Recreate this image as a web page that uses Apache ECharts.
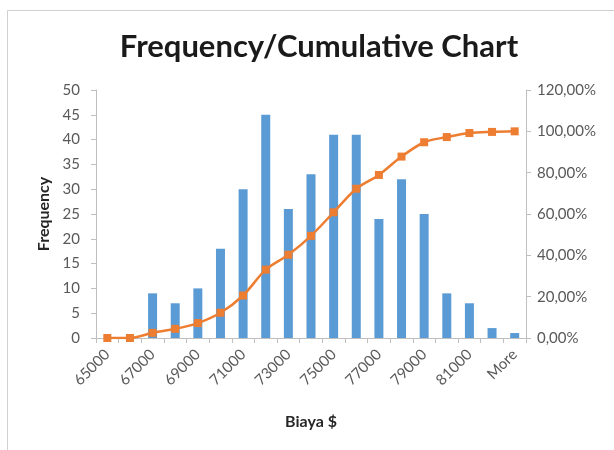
<!DOCTYPE html>
<html>
<head>
<meta charset="utf-8">
<script src="https://cdn.jsdelivr.net/npm/echarts@6/dist/echarts.min.js"></script>
<style>
  html, body { margin: 0; padding: 0; background: #fff; }
  #chart { width: 614px; height: 450px; }
</style>
</head>
<body>
<div id="chart"></div>
<script>
// Histogram bins (upper bound of each bin, Excel style)
const bins = ['65000', '66000', '67000', '68000', '69000', '70000', '71000', '72000', '73000',
  '74000', '75000', '76000', '77000', '78000', '79000', '80000', '81000', '82000', 'More'];

// Count of observations per bin
const frequency = [0, 0, 9, 7, 10, 18, 30, 45, 26, 33, 41, 41, 24, 32, 25, 9, 7, 2, 1];

// Cumulative share, in percent
const cumulativePct = [0, 0, 2.5, 4.44, 7.22, 12.22, 20.56, 33.06, 40.28, 49.44, 60.83,
  72.22, 78.89, 87.78, 94.72, 97.22, 99.17, 99.72, 100];

// Axis ranges
const freqAxis = { min: 0, max: 50, step: 5 };
const pctAxis = { min: 0, max: 120, step: 20 };

const FONT = 'Lato, "Open Sans", sans-serif';
const labelGray = '#595959';
const axisGray = '#BFBFBF';

const chart = echarts.init(document.getElementById('chart'), null, { renderer: 'canvas' });

chart.setOption({
  animation: false,
  backgroundColor: '#ffffff',
  graphic: [
    {
      type: 'rect',
      shape: { x: 7.5, y: 10.5, width: 700, height: 500 },
      style: { fill: 'none', stroke: '#D0D0D0', lineWidth: 1 },
      silent: true
    }
  ],
  title: {
    text: 'Frequency/Cumulative Chart',
    left: 314,
    top: 26,
    textAlign: 'center',
    textStyle: { fontFamily: FONT, fontSize: 31, fontWeight: 'bold', color: '#1a1a1a' }
  },
  grid: { left: 96, right: 88, top: 90, bottom: 112, containLabel: false },
  xAxis: {
    type: 'category',
    data: bins,
    name: 'Biaya $',
    nameLocation: 'middle',
    nameGap: 76,
    nameTextStyle: { fontFamily: FONT, fontSize: 16, fontWeight: 'bold', color: '#262626' },
    axisLine: { show: true, lineStyle: { color: axisGray, width: 1 } },
    axisTick: { show: true, alignWithLabel: false, interval: 0, length: 5, lineStyle: { color: axisGray } },
    axisLabel: {
      interval: 1,
      rotate: 45,
      margin: 14,
      fontFamily: FONT,
      fontSize: 15,
      color: labelGray
    },
    splitLine: { show: false }
  },
  yAxis: [
    {
      type: 'value',
      min: freqAxis.min,
      max: freqAxis.max,
      interval: freqAxis.step,
      name: 'Frequency',
      nameLocation: 'middle',
      nameRotate: 90,
      nameGap: 43,
      nameTextStyle: { fontFamily: FONT, fontSize: 16, fontWeight: 'bold', color: '#262626' },
      axisLine: { show: true, lineStyle: { color: axisGray } },
      axisTick: { show: true, length: 5, lineStyle: { color: axisGray } },
      axisLabel: { fontFamily: FONT, fontSize: 15, color: labelGray, margin: 16 },
      splitLine: { show: false }
    },
    {
      type: 'value',
      min: pctAxis.min,
      max: pctAxis.max,
      interval: pctAxis.step,
      position: 'right',
      axisLine: { show: true, lineStyle: { color: axisGray } },
      axisTick: { show: true, length: 5, lineStyle: { color: axisGray } },
      axisLabel: {
        fontFamily: FONT,
        fontSize: 15,
        color: labelGray,
        margin: 11,
        formatter: v => v.toFixed(2).replace('.', ',') + '%'
      },
      splitLine: { show: false }
    }
  ],
  series: [
    {
      name: 'Frequency',
      type: 'bar',
      data: frequency,
      yAxisIndex: 0,
      barWidth: 9,
      itemStyle: { color: '#5B9BD5' }
    },
    {
      name: 'Cumulative %',
      type: 'line',
      data: cumulativePct,
      yAxisIndex: 1,
      smooth: 0.3,
      symbol: 'rect',
      symbolSize: 8,
      lineStyle: { color: '#ED7D31', width: 2.5 },
      itemStyle: { color: '#ED7D31' }
    }
  ]
});
</script>
</body>
</html>
